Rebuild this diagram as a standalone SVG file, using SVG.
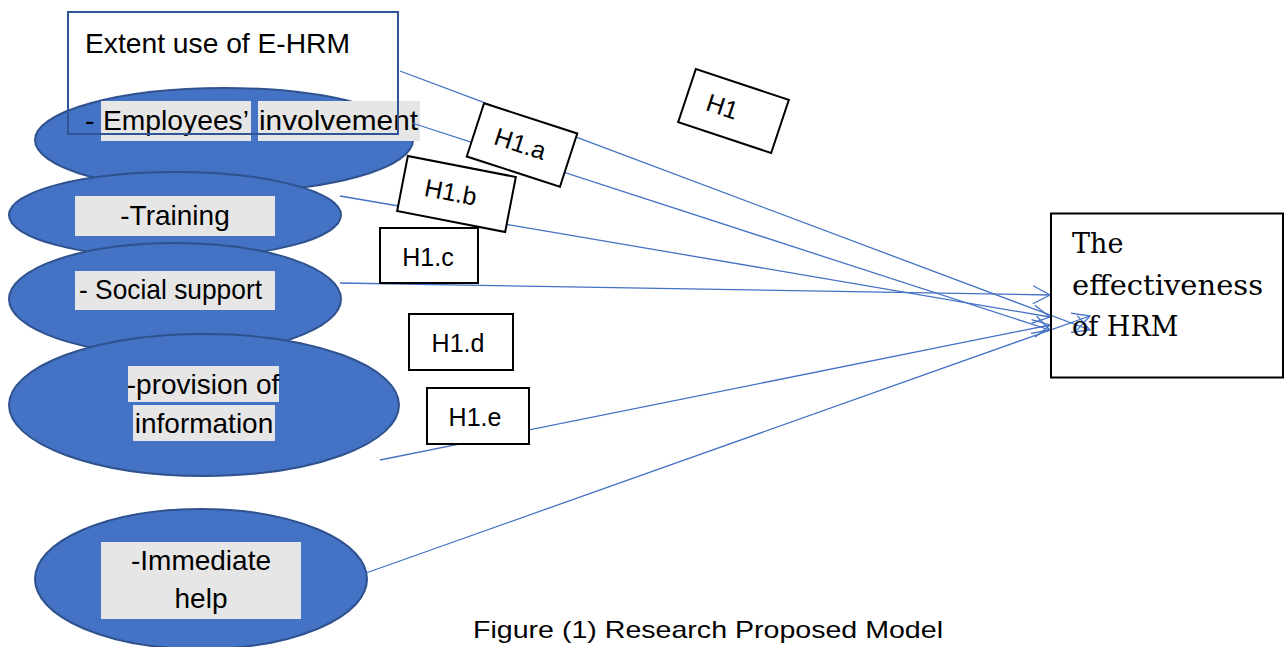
<svg xmlns="http://www.w3.org/2000/svg" width="1284" height="647" viewBox="0 0 1284 647">
  <defs>
    <style>
      .ell { fill: #4472C4; stroke: #2F528F; stroke-width: 2; }
      .hl { fill: #E6E6E6; }
      .lbl { font-family: "Liberation Sans", Arial, sans-serif; font-size: 28px; fill: #000; }
      .hyp { fill: #fff; stroke: #000; stroke-width: 2; }
      .htxt { font-family: "Liberation Sans", Arial, sans-serif; font-size: 25px; fill: #000; text-anchor: middle; }
      .conn { stroke: #4472C4; stroke-width: 1.3; fill: none; marker-end: url(#arr); }
      .serif { font-family: "DejaVu Serif", "Liberation Serif", serif; font-size: 27px; fill: #000; }
    </style>
    <marker id="arr" viewBox="0 0 20 20" refX="18" refY="10" markerWidth="20" markerHeight="20" markerUnits="userSpaceOnUse" orient="auto">
      <path d="M1,1 L18,10 L1,19" fill="none" stroke="#4472C4" stroke-width="1.3"/>
    </marker>
  </defs>
  <rect width="1284" height="647" fill="#fff"/>

  <g id="node-employees">
    <ellipse class="ell" cx="224" cy="140" rx="189" ry="52"/>
  </g>
  <g id="node-training">
    <ellipse class="ell" cx="175" cy="215" rx="166" ry="43"/>
    <rect class="hl" x="75" y="196" width="200" height="40"/>
    <text class="lbl" x="175" y="225" text-anchor="middle">-Training</text>
  </g>
  <g id="node-social">
    <ellipse class="ell" cx="175" cy="299" rx="166" ry="56"/>
    <rect class="hl" x="75" y="271" width="200" height="39"/>
    <text class="lbl" x="79" y="299" textLength="183" lengthAdjust="spacingAndGlyphs">- Social support</text>
  </g>
  <g id="node-provision">
    <ellipse class="ell" cx="204" cy="405" rx="195" ry="71"/>
    <rect class="hl" x="128" y="366" width="151" height="36"/>
    <rect class="hl" x="133" y="405" width="142" height="36"/>
    <text class="lbl" x="203" y="394" text-anchor="middle">-provision of</text>
    <text class="lbl" x="204" y="433" text-anchor="middle">information</text>
  </g>
  <g id="node-immediate">
    <ellipse class="ell" cx="201" cy="579" rx="166" ry="70"/>
    <rect class="hl" x="101" y="542" width="200" height="77"/>
    <text class="lbl" x="201" y="570" text-anchor="middle">-Immediate</text>
    <text class="lbl" x="201" y="608" text-anchor="middle">help</text>
  </g>

  <g id="node-extent">
    <rect class="hl" x="101" y="101" width="150" height="40"/>
    <rect class="hl" x="258" y="101" width="162" height="40"/>
    <text class="lbl" x="85" y="130">-</text>
    <text class="lbl" x="103" y="130" textLength="146" lengthAdjust="spacingAndGlyphs">Employees’</text>
    <text class="lbl" x="259" y="130" textLength="159" lengthAdjust="spacingAndGlyphs">involvement</text>
    <rect x="68" y="12" width="330" height="122" fill="none" stroke="#2F5597" stroke-width="2"/>
    <text class="lbl" x="85" y="53" textLength="265" lengthAdjust="spacingAndGlyphs">Extent use of E-HRM</text>
  </g>

  <g id="connectors">
    <line class="conn" x1="400" y1="71" x2="1090" y2="330"/>
    <line class="conn" x1="412" y1="123" x2="1050" y2="330"/>
    <line class="conn" x1="340" y1="196" x2="1050" y2="317"/>
    <line class="conn" x1="340" y1="283" x2="1050" y2="295"/>
    <line class="conn" x1="380" y1="460" x2="1050" y2="325"/>
    <line class="conn" x1="366" y1="573" x2="1090" y2="316"/>
  </g>

  <g id="hyp-h1" transform="translate(733.5,111) rotate(18.4)">
    <rect class="hyp" x="-49" y="-28" width="98" height="56"/>
    <text class="htxt" x="-12" y="8">H1</text>
  </g>
  <g id="hyp-h1a" transform="translate(522,145) rotate(18)">
    <rect class="hyp" x="-49" y="-28" width="98" height="56"/>
    <text class="htxt" x="-2" y="8">H1.a</text>
  </g>
  <g id="hyp-h1b" transform="translate(456.5,194) rotate(11)">
    <rect class="hyp" x="-55" y="-28" width="110" height="56"/>
    <text class="htxt" x="-6" y="8">H1.b</text>
  </g>
  <g id="hyp-h1c">
    <rect class="hyp" x="380" y="228" width="98" height="55"/>
    <text class="htxt" x="428" y="266">H1.c</text>
  </g>
  <g id="hyp-h1d">
    <rect class="hyp" x="409" y="314" width="104" height="56"/>
    <text class="htxt" x="458" y="352">H1.d</text>
  </g>
  <g id="hyp-h1e">
    <rect class="hyp" x="427" y="388" width="102" height="56"/>
    <text class="htxt" x="475" y="426">H1.e</text>
  </g>

  <g id="node-effectiveness">
    <rect x="1051" y="213.5" width="232" height="164" fill="none" stroke="#000" stroke-width="2"/>
    <text class="serif" x="1072" y="253">The</text>
    <text class="serif" x="1072" y="295" textLength="191" lengthAdjust="spacingAndGlyphs">effectiveness</text>
    <text class="serif" x="1072" y="336">of HRM</text>
  </g>

  <text class="lbl" x="473" y="638" style="font-size:24px" textLength="470" lengthAdjust="spacingAndGlyphs">Figure (1) Research Proposed Model</text>
</svg>
